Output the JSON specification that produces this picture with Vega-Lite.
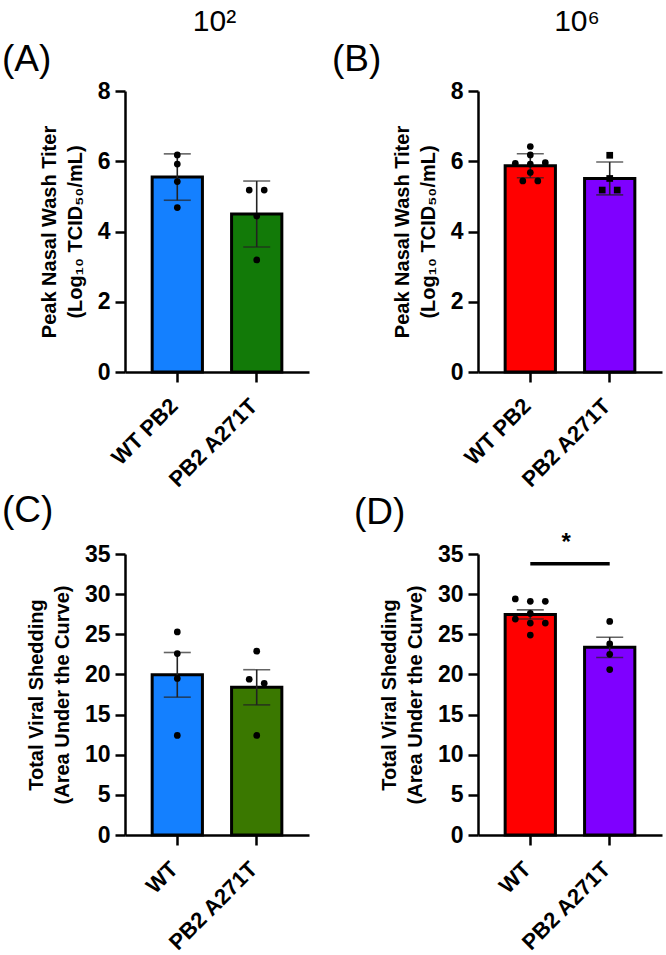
{
  "$schema": "https://vega.github.io/schema/vega-lite/v6.json",
  "background": "white",
  "padding": {"left": 2, "top": 7, "right": 1, "bottom": 2},
  "config": {
    "font": "Liberation Sans",
    "view": {"stroke": null},
    "axis": {"domainColor": "black", "domainWidth": 2.5, "tickColor": "black", "tickWidth": 2.5, "tickSize": 10, "labelColor": "black", "labelFontWeight": "bold", "labelPadding": 5, "titleColor": "black", "titleFontWeight": "bold", "titleFontSize": 20, "titleLineHeight": 26, "titlePadding": 12, "grid": false},
    "axisY": {"labelFontSize": 23},
    "axisX": {"labelAngle": -45, "labelFontSize": 22, "labelAlign": "right", "labelBaseline": "middle", "labelPadding": 20, "labelOffset": -3, "title": null},
    "title": {"color": "black", "fontWeight": "normal"}
  },
  "datasets": {
    "A": [
      {"group": "WT PB2", "value": 6.18, "slot": 0},
      {"group": "WT PB2", "value": 5.92, "slot": 0},
      {"group": "WT PB2", "value": 5.42, "slot": 0},
      {"group": "WT PB2", "value": 4.68, "slot": 0},
      {"group": "PB2 A271T", "value": 5.18, "slot": -1},
      {"group": "PB2 A271T", "value": 5.18, "slot": 1},
      {"group": "PB2 A271T", "value": 4.44, "slot": 0},
      {"group": "PB2 A271T", "value": 3.19, "slot": 0}
    ],
    "B": [
      {"group": "WT PB2", "value": 6.42, "slot": 0},
      {"group": "WT PB2", "value": 6.18, "slot": 0},
      {"group": "WT PB2", "value": 5.94, "slot": -2},
      {"group": "WT PB2", "value": 5.92, "slot": 0},
      {"group": "WT PB2", "value": 5.96, "slot": 2},
      {"group": "WT PB2", "value": 5.68, "slot": 0},
      {"group": "WT PB2", "value": 5.44, "slot": -1},
      {"group": "WT PB2", "value": 5.44, "slot": 1},
      {"group": "PB2 A271T", "value": 6.17, "slot": 0},
      {"group": "PB2 A271T", "value": 5.51, "slot": 0},
      {"group": "PB2 A271T", "value": 5.18, "slot": -1},
      {"group": "PB2 A271T", "value": 5.18, "slot": 1}
    ],
    "C": [
      {"group": "WT", "value": 25.3, "slot": 0},
      {"group": "WT", "value": 22.6, "slot": 0},
      {"group": "WT", "value": 19.5, "slot": 0},
      {"group": "WT", "value": 12.4, "slot": 0},
      {"group": "PB2 A271T", "value": 22.9, "slot": 0},
      {"group": "PB2 A271T", "value": 19.4, "slot": -1},
      {"group": "PB2 A271T", "value": 18.9, "slot": 1},
      {"group": "PB2 A271T", "value": 12.4, "slot": 0}
    ],
    "D": [
      {"group": "WT", "value": 29.4, "slot": -2},
      {"group": "WT", "value": 29.1, "slot": 0},
      {"group": "WT", "value": 29.1, "slot": 2},
      {"group": "WT", "value": 27.6, "slot": 0},
      {"group": "WT", "value": 26.9, "slot": -2},
      {"group": "WT", "value": 26.4, "slot": 0},
      {"group": "WT", "value": 26.4, "slot": 2},
      {"group": "WT", "value": 24.9, "slot": 0},
      {"group": "PB2 A271T", "value": 26.6, "slot": 0},
      {"group": "PB2 A271T", "value": 23.8, "slot": 0},
      {"group": "PB2 A271T", "value": 22.5, "slot": 0},
      {"group": "PB2 A271T", "value": 20.6, "slot": 0}
    ],
    "sig": [
      {"from": "WT", "to": "PB2 A271T", "y": 33.8, "star_y": 36.4, "label": "*"}
    ]
  },
  "vconcat": [
    {
      "hconcat": [
        {
          "title": {"text": "10²", "fontSize": 30, "anchor": "middle", "dx": 59},
          "vconcat": [
            {
              "width": 184, "height": 281,
              "title": {"text": "(A)", "fontSize": 37, "anchor": "start", "frame": "group", "dx": -123, "offset": 1},
              "data": {"name": "A"},
              "encoding": {"x": {"field": "group", "type": "nominal", "scale": {"domain": ["WT PB2", "PB2 A271T"], "paddingInner": 0.367, "paddingOuter": 0.342}}},
              "resolve": {"scale": {"xOffset": "independent"}},
              "layer": [
                {"mark": {"type": "bar", "stroke": "black", "strokeWidth": 3},
                 "encoding": {"y": {"aggregate": "mean", "field": "value", "type": "quantitative", "scale": {"domain": [0, 8]}, "axis": {"values": [0, 2, 4, 6, 8]}, "title": ["Peak Nasal Wash Titer", "(Log₁₀ TCID₅₀/mL)"]},
                              "color": {"condition": {"test": "datum.group === 'WT PB2'", "value": "#1480FF"}, "value": "#127A08"}}},
                {"mark": {"type": "errorbar", "extent": "stdev", "ticks": true, "size": 27, "thickness": 1.6, "color": "#222222"},
                 "encoding": {"y": {"field": "value", "type": "quantitative", "title": ["Peak Nasal Wash Titer", "(Log₁₀ TCID₅₀/mL)"]}}},
                {"mark": {"type": "point", "filled": true, "color": "black", "size": 45, "opacity": 1},
                 "encoding": {"y": {"field": "value", "type": "quantitative", "title": ["Peak Nasal Wash Titer", "(Log₁₀ TCID₅₀/mL)"]}, "xOffset": {"field": "slot", "type": "quantitative", "scale": {"domain": [-2, 2], "range": [10.15, 40.15]}}}}
              ]
            }
          ]
        },
        {
          "title": {"text": "10⁶", "fontSize": 30, "anchor": "middle", "dx": 80},
          "vconcat": [
            {
              "width": 184, "height": 281,
              "title": {"text": "(B)", "fontSize": 37, "anchor": "start", "frame": "group", "dx": -146, "offset": 1},
              "data": {"name": "B"},
              "encoding": {"x": {"field": "group", "type": "nominal", "scale": {"domain": ["WT PB2", "PB2 A271T"], "paddingInner": 0.367, "paddingOuter": 0.342}}},
              "resolve": {"scale": {"xOffset": "independent"}},
              "layer": [
                {"mark": {"type": "bar", "stroke": "black", "strokeWidth": 3},
                 "encoding": {"y": {"aggregate": "mean", "field": "value", "type": "quantitative", "scale": {"domain": [0, 8]}, "axis": {"values": [0, 2, 4, 6, 8]}, "title": ["Peak Nasal Wash Titer", "(Log₁₀ TCID₅₀/mL)"]},
                              "color": {"condition": {"test": "datum.group === 'WT PB2'", "value": "#FF0000"}, "value": "#7F00FF"}}},
                {"mark": {"type": "errorbar", "extent": "stdev", "ticks": true, "size": 27, "thickness": 1.6, "color": "#222222"},
                 "encoding": {"y": {"field": "value", "type": "quantitative", "title": ["Peak Nasal Wash Titer", "(Log₁₀ TCID₅₀/mL)"]}}},
                {"mark": {"type": "point", "filled": true, "color": "black", "size": 45, "opacity": 1},
                 "encoding": {"y": {"field": "value", "type": "quantitative", "title": ["Peak Nasal Wash Titer", "(Log₁₀ TCID₅₀/mL)"]},
                              "shape": {"condition": {"test": "datum.group === 'WT PB2'", "value": "circle"}, "value": "square"},
                              "xOffset": {"field": "slot", "type": "quantitative", "scale": {"domain": [-2, 2], "range": [10.15, 40.15]}}}}
              ]
            }
          ]
        }
      ],
      "spacing": 23
    },
    {
      "hconcat": [
        {
          "width": 184, "height": 281,
          "title": {"text": "(C)", "fontSize": 37, "anchor": "start", "frame": "group", "dx": -123, "offset": 13},
          "data": {"name": "C"},
          "encoding": {"x": {"field": "group", "type": "nominal", "scale": {"domain": ["WT", "PB2 A271T"], "paddingInner": 0.367, "paddingOuter": 0.342}}},
          "resolve": {"scale": {"xOffset": "independent"}},
          "layer": [
            {"mark": {"type": "bar", "stroke": "black", "strokeWidth": 3},
             "encoding": {"y": {"aggregate": "mean", "field": "value", "type": "quantitative", "scale": {"domain": [0, 35]}, "axis": {"values": [0, 5, 10, 15, 20, 25, 30, 35]}, "title": ["Total Viral Shedding", "(Area Under the Curve)"]},
                          "color": {"condition": {"test": "datum.group === 'WT'", "value": "#1480FF"}, "value": "#3A7800"}}},
            {"mark": {"type": "errorbar", "extent": "stderr", "ticks": true, "size": 27, "thickness": 1.6, "color": "#222222"},
             "encoding": {"y": {"field": "value", "type": "quantitative", "title": ["Total Viral Shedding", "(Area Under the Curve)"]}}},
            {"mark": {"type": "point", "filled": true, "color": "black", "size": 45, "opacity": 1},
             "encoding": {"y": {"field": "value", "type": "quantitative", "title": ["Total Viral Shedding", "(Area Under the Curve)"]}, "xOffset": {"field": "slot", "type": "quantitative", "scale": {"domain": [-2, 2], "range": [10.15, 40.15]}}}}
          ]
        },
        {
          "width": 184, "height": 281,
          "title": {"text": "(D)", "fontSize": 37, "anchor": "start", "frame": "group", "dx": -124, "offset": -1},
          "resolve": {"scale": {"xOffset": "independent"}},
          "layer": [
            {"data": {"name": "D"},
             "mark": {"type": "bar", "stroke": "black", "strokeWidth": 3},
             "encoding": {"x": {"field": "group", "type": "nominal", "scale": {"domain": ["WT", "PB2 A271T"], "paddingInner": 0.367, "paddingOuter": 0.342}},
                          "y": {"aggregate": "mean", "field": "value", "type": "quantitative", "scale": {"domain": [0, 35]}, "axis": {"values": [0, 5, 10, 15, 20, 25, 30, 35]}, "title": ["Total Viral Shedding", "(Area Under the Curve)"]},
                          "color": {"condition": {"test": "datum.group === 'WT'", "value": "#FF0000"}, "value": "#7F00FF"}}},
            {"data": {"name": "D"},
             "mark": {"type": "errorbar", "extent": "stderr", "ticks": true, "size": 27, "thickness": 1.6, "color": "#222222"},
             "encoding": {"x": {"field": "group", "type": "nominal"}, "y": {"field": "value", "type": "quantitative", "title": ["Total Viral Shedding", "(Area Under the Curve)"]}}},
            {"data": {"name": "D"},
             "mark": {"type": "point", "filled": true, "color": "black", "size": 45, "opacity": 1},
             "encoding": {"x": {"field": "group", "type": "nominal"}, "y": {"field": "value", "type": "quantitative", "title": ["Total Viral Shedding", "(Area Under the Curve)"]}, "xOffset": {"field": "slot", "type": "quantitative", "scale": {"domain": [-2, 2], "range": [10.15, 40.15]}}}},
            {"data": {"name": "sig"},
             "mark": {"type": "rule", "strokeWidth": 3.5, "color": "black"},
             "encoding": {"x": {"field": "from", "type": "nominal"}, "x2": {"field": "to"}, "y": {"field": "y", "type": "quantitative", "title": ["Total Viral Shedding", "(Area Under the Curve)"]}}},
            {"data": {"name": "sig"},
             "mark": {"type": "text", "fontSize": 24, "fontWeight": "bold", "dx": 36, "baseline": "middle", "clip": false},
             "encoding": {"x": {"field": "from", "type": "nominal"}, "y": {"field": "star_y", "type": "quantitative", "title": ["Total Viral Shedding", "(Area Under the Curve)"]}, "text": {"field": "label"}}}
          ]
        }
      ],
      "spacing": 45
    }
  ],
  "spacing": 0
}
